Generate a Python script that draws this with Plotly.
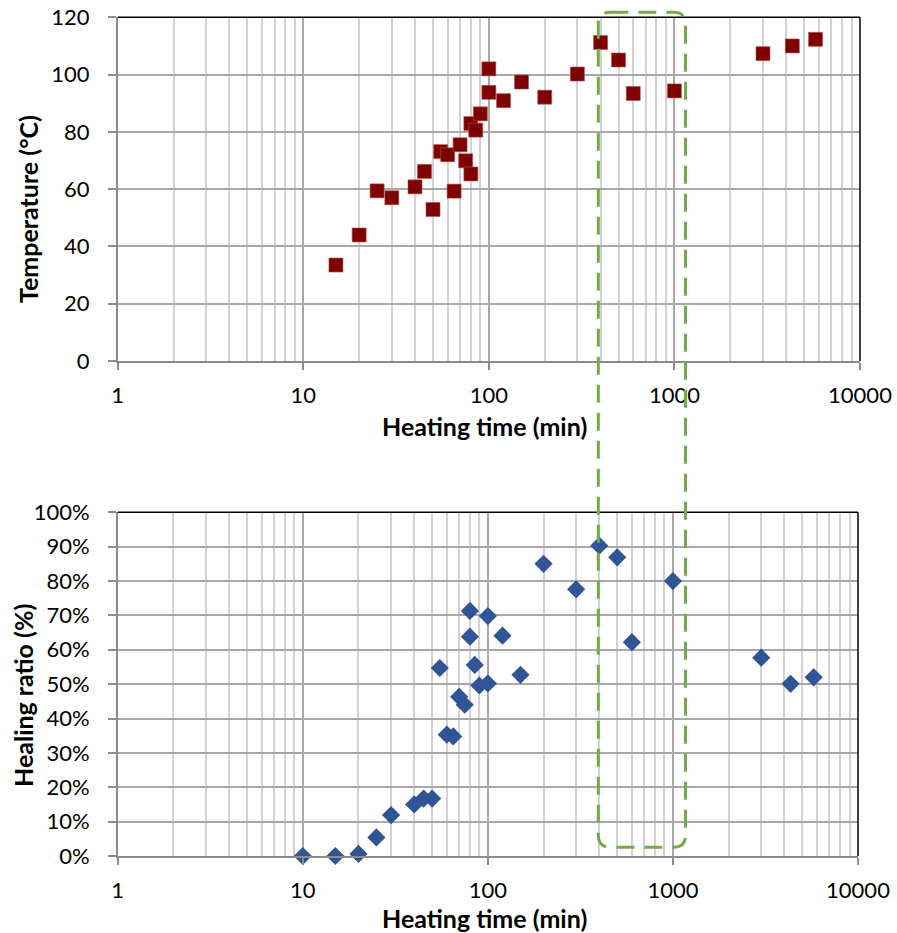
import plotly.graph_objects as go

# ---------------- data ----------------
top_time = [15, 20, 25, 30, 40, 45, 50, 55, 60, 65, 70, 75, 80, 80, 85, 90, 100, 100,
            120, 150, 200, 300, 400, 500, 600, 1000, 3000, 4320, 5760]
top_temp = [33.5, 44.0, 59.4, 57.0, 60.8, 66.2, 52.9, 73.1, 72.0, 59.3, 75.5, 69.9, 65.3, 82.9,
            80.6, 86.3, 102.0, 93.8, 90.9, 97.4, 92.1, 100.2, 111.2, 105.1, 93.4, 94.3,
            107.3, 110.0, 112.3]

bottom_time = [10, 15, 20, 25, 30, 40, 45, 50, 55, 60, 65, 70, 75, 80, 80, 85, 90, 100, 100,
               120, 150, 200, 300, 400, 500, 600, 1000, 3000, 4320, 5760]
bottom_ratio = [0.0, 0.0, 0.6, 5.4, 11.9, 15.0, 16.7, 16.7, 54.7, 35.3, 34.8, 46.3, 44.0, 71.3,
                63.8, 55.6, 49.6, 69.8, 50.2, 64.1, 52.7, 85.0, 77.6, 90.3, 86.9, 62.2, 80.0,
                57.7, 50.1, 52.0]

x_tickvals = [1, 10, 100, 1000, 10000]
x_ticktext = ["1", "10", "100", "1000", "10000"]
x_title = "Heating time (min)"
y1_title = "Temperature (°C)"
y2_title = "Healing ratio (%)"

W, H = 897, 933
FONT = "Lato"

def px(x):
    return x / W

def py(y):
    return 1 - y / H

minor_vals = [k * 10 ** d for d in range(0, 4) for k in range(2, 10)]

def xaxis(domain, anchor):
    return dict(
        type="log", range=[0, 4], domain=domain, anchor=anchor, automargin=False,
        tickmode="array", tickvals=x_tickvals, ticktext=x_ticktext,
        ticks="outside", ticklen=7, tickwidth=1.5, tickcolor="#8C8C8C",
        showline=True, linecolor="#8C8C8C", linewidth=1.5,
        showgrid=True, gridcolor="#A8A8A8", gridwidth=1.5,
        minor=dict(tickmode="array", tickvals=minor_vals, showgrid=True,
                   gridcolor="#D2D2D2", gridwidth=1.5, ticks=""),
        tickfont=dict(family=FONT, size=22, color="black"),
        ticklabelstandoff=7, zeroline=False,
    )

def yaxis(domain, anchor, rng, dtick, suffix=""):
    return dict(
        range=rng, dtick=dtick, domain=domain, anchor=anchor, ticksuffix=suffix,
        automargin=False,
        ticks="outside", ticklen=8, tickwidth=1.5, tickcolor="#8C8C8C",
        showline=True, linecolor="#8C8C8C", linewidth=1.5,
        showgrid=True, gridcolor="#A8A8A8", gridwidth=1.5,
        tickfont=dict(family=FONT, size=22, color="black"),
        ticklabelstandoff=14, zeroline=False,
    )

fig = go.Figure()
fig.add_trace(go.Scatter(
    x=top_time, y=top_temp, mode="markers", xaxis="x", yaxis="y",
    marker=dict(symbol="square", size=14, color="#7F0000",
                line=dict(width=0.6, color="#B05050")),
    showlegend=False, cliponaxis=False))
fig.add_trace(go.Scatter(
    x=bottom_time, y=bottom_ratio, mode="markers", xaxis="x2", yaxis="y2",
    marker=dict(symbol="diamond", size=14, color="#2F5597"),
    showlegend=False, cliponaxis=False))

top_px = (17.3, 361.0)
bot_px = (512.3, 856.0)

fig.update_layout(
    width=W, height=H, autosize=False,
    margin=dict(l=0, r=0, t=0, b=0, pad=0),
    paper_bgcolor="white", plot_bgcolor="white",
    xaxis=xaxis([px(117.7), px(860)], "y"),
    yaxis=yaxis([py(top_px[1]), py(top_px[0])], "x", [0, 120], 20),
    xaxis2=xaxis([px(117.7), px(858)], "y2"),
    yaxis2=yaxis([py(bot_px[1]), py(bot_px[0])], "x2", [0, 100], 10, "%"),
)

# black top/right frame lines
for xr, yr in (("x domain", "y domain"), ("x2 domain", "y2 domain")):
    fig.add_shape(type="line", xref=xr, yref=yr, x0=0, x1=1, y0=1, y1=1,
                  line=dict(color="black", width=1.5))
    fig.add_shape(type="line", xref=xr, yref=yr, x0=1, x1=1, y0=0, y1=1,
                  line=dict(color="black", width=1.5))

# axis titles
title_font = dict(family=FONT, size=25, color="black", weight="bold")
for xc, yc in ((484, 426), (484, 918)):
    fig.add_annotation(text=x_title, xref="paper", yref="paper", x=px(xc), y=py(yc),
                       showarrow=False, font=title_font, xanchor="center", yanchor="middle")
fig.add_annotation(text=y1_title, xref="paper", yref="paper", x=px(28), y=py(209),
                   showarrow=False, font=title_font, textangle=-90,
                   xanchor="center", yanchor="middle")
fig.add_annotation(text=y2_title, xref="paper", yref="paper", x=px(23), y=py(696),
                   showarrow=False, font=title_font, textangle=-90,
                   xanchor="center", yanchor="middle")

# green dashed rounded rectangle highlight
x0, x1, y0, y1, r = 598.3, 685.5, 12.3, 847.3, 12
path = (
    f"M {px(x0 + r)},{py(y0)} L {px(x1 - r)},{py(y0)} "
    f"Q {px(x1)},{py(y0)} {px(x1)},{py(y0 + r)} "
    f"L {px(x1)},{py(y1 - r)} Q {px(x1)},{py(y1)} {px(x1 - r)},{py(y1)} "
    f"L {px(x0 + r)},{py(y1)} Q {px(x0)},{py(y1)} {px(x0)},{py(y1 - r)} "
    f"L {px(x0)},{py(y0 + r)} Q {px(x0)},{py(y0)} {px(x0 + r)},{py(y0)} Z"
)
fig.add_shape(type="path", xref="paper", yref="paper", path=path,
              line=dict(color="#70AD47", width=3, dash="18px,10px"))

fig.write_html("out.html")
